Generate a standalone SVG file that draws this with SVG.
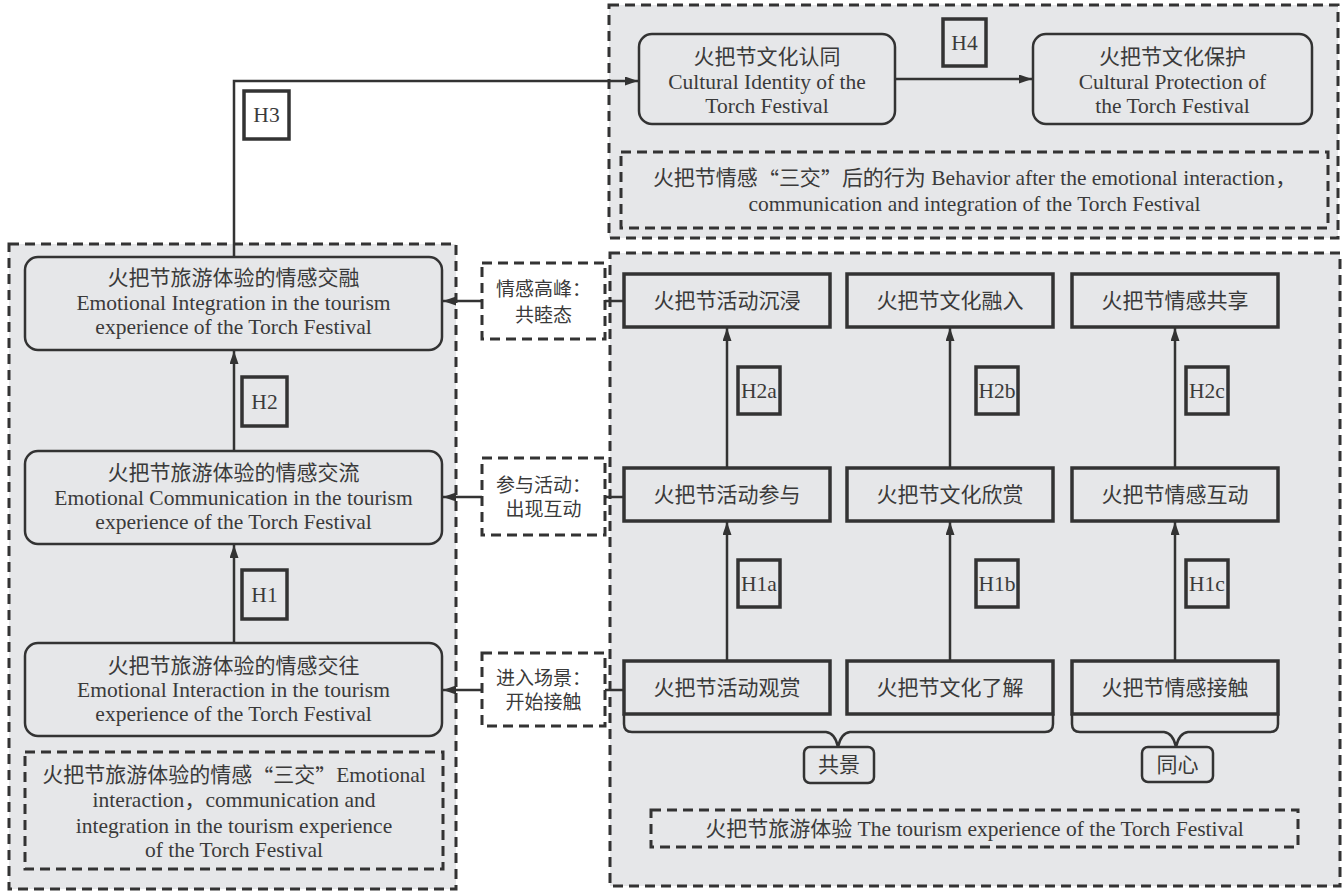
<svg xmlns="http://www.w3.org/2000/svg" width="1344" height="894" viewBox="0 0 1344 894">
<defs>
<style>
.cont{fill:#e6e7e9;stroke:#333;stroke-width:3;stroke-dasharray:10 6}
.dash{fill:none;stroke:#333;stroke-width:3;stroke-dasharray:10 6}
.lbl{fill:#fff;stroke:#333;stroke-width:3;stroke-dasharray:10 6}
.node{fill:#e6e7e9;stroke:#333;stroke-width:2.5}
.box{fill:#e6e7e9;stroke:#333;stroke-width:3.5}
.hbox{fill:none;stroke:#333;stroke-width:3.5}
.hboxw{fill:#fff;stroke:#333;stroke-width:3.5}
.tag{fill:#e6e7e9;stroke:#333;stroke-width:2.5}
.t{font-family:"Liberation Serif","Noto Sans CJK SC",serif;font-size:21px;fill:#3a3a3a;text-anchor:middle;dominant-baseline:central}
.e{font-size:21.5px}
.s{font-size:19px}
.q{font-family:"Noto Sans CJK SC",sans-serif}
.ln{fill:none;stroke:#333;stroke-width:2.5}
</style>
<marker id="ah" markerUnits="userSpaceOnUse" markerWidth="14" markerHeight="10" refX="13" refY="4.5" orient="auto">
<path d="M0,0 L13,4.5 L0,9 Z" fill="#333"/>
</marker>
</defs>
<rect width="1344" height="894" fill="#fff"/>

<g id="containers">
<rect id="c-top" class="cont" x="609" y="5" width="729" height="233"/>
<rect id="c-left" class="cont" x="9" y="244" width="447" height="645"/>
<rect id="c-right" class="cont" x="610" y="253" width="730" height="633"/>
</g>

<g id="connectors">
<path class="ln" d="M234,257 V81 H638" marker-end="url(#ah)"/>
<path class="ln" d="M895,79 H1032" marker-end="url(#ah)"/>
<path class="ln" d="M234,451 V351" marker-end="url(#ah)"/>
<path class="ln" d="M234,643 V545" marker-end="url(#ah)"/>
<path class="ln" d="M482,301 H443" marker-end="url(#ah)"/>
<path class="ln" d="M482,497 H443" marker-end="url(#ah)"/>
<path class="ln" d="M482,690 H443" marker-end="url(#ah)"/>
<path class="ln" d="M605,301 H624 M605,497 H624 M605,690 H624"/>
<path class="ln" d="M727,468 V328" marker-end="url(#ah)"/>
<path class="ln" d="M950,468 V328" marker-end="url(#ah)"/>
<path class="ln" d="M1175,468 V328" marker-end="url(#ah)"/>
<path class="ln" d="M727,661 V522" marker-end="url(#ah)"/>
<path class="ln" d="M950,661 V522" marker-end="url(#ah)"/>
<path class="ln" d="M1175,661 V522" marker-end="url(#ah)"/>
<path class="ln" d="M624,714 V724 Q624,732 632,732 H826 Q835,733 838,747 Q841,733 850,732 H1045 Q1053,732 1053,724 V714"/>
<path class="ln" d="M1072,714 V724 Q1072,732 1080,732 H1164 Q1173,733 1176,747 Q1179,733 1188,732 H1270 Q1278,732 1278,724 V714"/>
</g>

<g id="h-labels">
<g id="H3"><rect class="hboxw" x="244" y="91" width="45" height="48"/><text class="t e" x="266.5" y="115">H3</text></g>
<g id="H4"><rect class="hbox" x="943" y="19" width="43" height="47"/><text class="t e" x="964.5" y="42.5">H4</text></g>
<g id="H2"><rect class="hbox" x="242" y="377" width="45" height="49"/><text class="t e" x="264.5" y="401.5">H2</text></g>
<g id="H1"><rect class="hbox" x="242" y="570" width="45" height="49"/><text class="t e" x="264.5" y="594.5">H1</text></g>
<g id="H2a"><rect class="hbox" x="738" y="367" width="42" height="47"/><text class="t e" x="759" y="390.5">H2a</text></g>
<g id="H2b"><rect class="hbox" x="976" y="367" width="42" height="47"/><text class="t e" x="997" y="390.5">H2b</text></g>
<g id="H2c"><rect class="hbox" x="1186" y="367" width="42" height="47"/><text class="t e" x="1207" y="390.5">H2c</text></g>
<g id="H1a"><rect class="hbox" x="738" y="560" width="42" height="47"/><text class="t e" x="759" y="583.5">H1a</text></g>
<g id="H1b"><rect class="hbox" x="976" y="560" width="42" height="47"/><text class="t e" x="997" y="583.5">H1b</text></g>
<g id="H1c"><rect class="hbox" x="1186" y="560" width="42" height="47"/><text class="t e" x="1207" y="583.5">H1c</text></g>
</g>

<g id="identity">
<rect class="node" x="639" y="34" width="256" height="90" rx="13"/>
<text class="t" x="767" y="57">火把节文化认同</text>
<text class="t e" x="767" y="82">Cultural Identity of the</text>
<text class="t e" x="767" y="106">Torch Festival</text>
</g>
<g id="protection">
<rect class="node" x="1033" y="34" width="279" height="90" rx="13"/>
<text class="t" x="1172.5" y="57">火把节文化保护</text>
<text class="t e" x="1172.5" y="82">Cultural Protection of</text>
<text class="t e" x="1172.5" y="106">the Torch Festival</text>
</g>
<g id="behavior">
<rect class="dash" x="621" y="152" width="707" height="76"/>
<text class="t" x="974.5" y="178">火把节情感<tspan class="q">“</tspan>三交<tspan class="q">”</tspan>后的行为<tspan class="e"> Behavior after the emotional interaction</tspan>，</text>
<text class="t e" x="974.5" y="204">communication and integration of the Torch Festival</text>
</g>

<g id="integration">
<rect class="node" x="25" y="257" width="417" height="93" rx="13"/>
<text class="t" x="233.5" y="278">火把节旅游体验的情感交融</text>
<text class="t e" x="233.5" y="303">Emotional Integration in the tourism</text>
<text class="t e" x="233.5" y="327">experience of the Torch Festival</text>
</g>
<g id="communication">
<rect class="node" x="25" y="451" width="417" height="93" rx="13"/>
<text class="t" x="233.5" y="473">火把节旅游体验的情感交流</text>
<text class="t e" x="233.5" y="498">Emotional Communication in the tourism</text>
<text class="t e" x="233.5" y="522">experience of the Torch Festival</text>
</g>
<g id="interaction">
<rect class="node" x="25" y="643" width="417" height="93" rx="13"/>
<text class="t" x="233.5" y="666">火把节旅游体验的情感交往</text>
<text class="t e" x="233.5" y="690">Emotional Interaction in the tourism</text>
<text class="t e" x="233.5" y="714">experience of the Torch Festival</text>
</g>
<g id="three-jiao">
<rect class="dash" x="25" y="752" width="418" height="117"/>
<text class="t" x="234" y="775">火把节旅游体验的情感<tspan class="q">“</tspan>三交<tspan class="q">”</tspan><tspan class="e">Emotional</tspan></text>
<text class="t" x="234" y="800"><tspan class="e">interaction</tspan>，<tspan class="e">communication and</tspan></text>
<text class="t e" x="234" y="826">integration in the tourism experience</text>
<text class="t e" x="234" y="850">of the Torch Festival</text>
</g>

<g id="peak">
<rect class="lbl" x="482" y="263" width="123" height="76"/>
<text class="t s" x="543.5" y="289">情感高峰：</text>
<text class="t s" x="543.5" y="315">共睦态</text>
</g>
<g id="participate">
<rect class="lbl" x="482" y="458" width="123" height="77"/>
<text class="t s" x="543.5" y="485">参与活动：</text>
<text class="t s" x="543.5" y="509">出现互动</text>
</g>
<g id="enter">
<rect class="lbl" x="482" y="653" width="123" height="73"/>
<text class="t s" x="543.5" y="678">进入场景：</text>
<text class="t s" x="543.5" y="702">开始接触</text>
</g>

<g id="immerse"><rect class="box" x="624" y="274" width="206" height="53"/><text class="t" x="727" y="300.5">火把节活动沉浸</text></g>
<g id="culture-in"><rect class="box" x="847" y="274" width="206" height="53"/><text class="t" x="950" y="300.5">火把节文化融入</text></g>
<g id="share"><rect class="box" x="1072" y="274" width="206" height="53"/><text class="t" x="1175" y="300.5">火把节情感共享</text></g>
<g id="participation"><rect class="box" x="624" y="468" width="206" height="53"/><text class="t" x="727" y="494.5">火把节活动参与</text></g>
<g id="appreciate"><rect class="box" x="847" y="468" width="206" height="53"/><text class="t" x="950" y="494.5">火把节文化欣赏</text></g>
<g id="emo-interact"><rect class="box" x="1072" y="468" width="206" height="53"/><text class="t" x="1175" y="494.5">火把节情感互动</text></g>
<g id="watch"><rect class="box" x="624" y="661" width="206" height="53"/><text class="t" x="727" y="687.5">火把节活动观赏</text></g>
<g id="understand"><rect class="box" x="847" y="661" width="206" height="53"/><text class="t" x="950" y="687.5">火把节文化了解</text></g>
<g id="contact"><rect class="box" x="1072" y="661" width="206" height="53"/><text class="t" x="1175" y="687.5">火把节情感接触</text></g>

<g id="gongjing"><rect class="tag" x="804" y="747" width="70" height="36" rx="6"/><text class="t" x="839" y="765">共景</text></g>
<g id="tongxin"><rect class="tag" x="1142" y="747" width="71" height="35" rx="6"/><text class="t" x="1177.5" y="764.5">同心</text></g>

<g id="tourism">
<rect class="dash" x="651" y="810" width="647" height="37"/>
<text class="t" x="974.5" y="829">火把节旅游体验<tspan class="e"> The tourism experience of the Torch Festival</tspan></text>
</g>
</svg>
